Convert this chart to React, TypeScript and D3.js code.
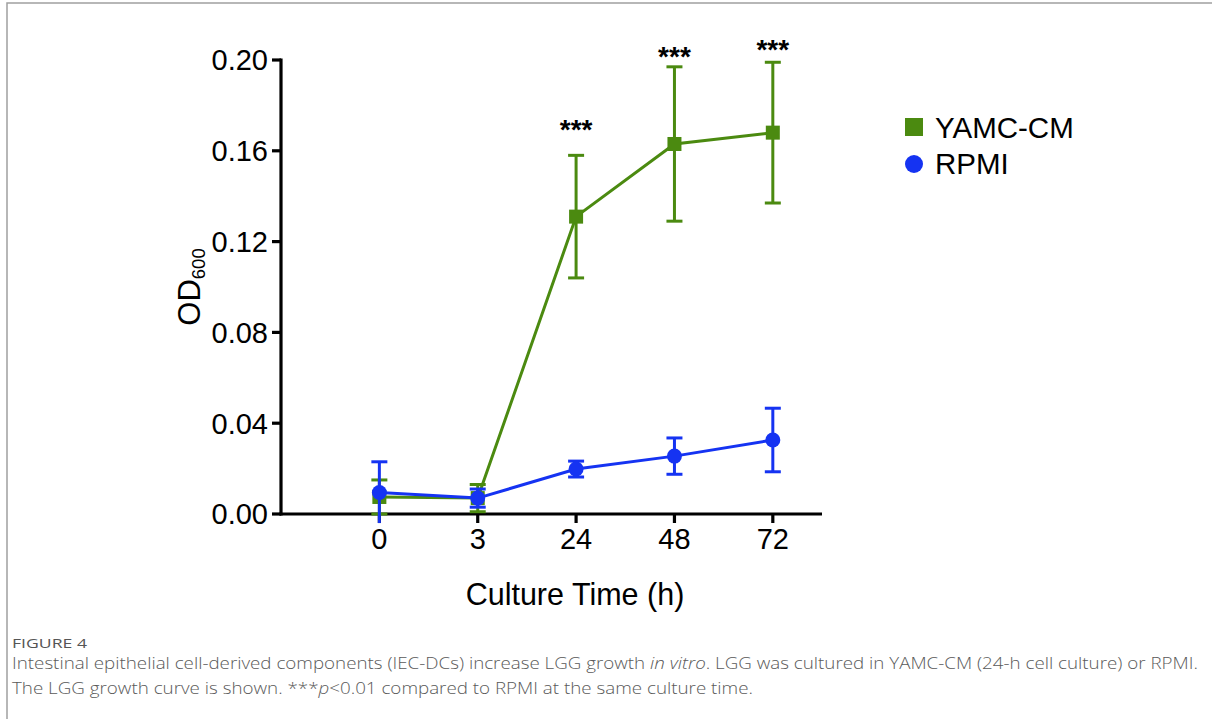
import * as d3 from 'd3';
import React from 'react';

const times = ['0', '3', '24', '48', '72'];
const yTicks = [0, 0.04, 0.08, 0.12, 0.16, 0.2];

const yamcMean = [0.0075, 0.007, 0.131, 0.163, 0.168];
const yamcErr = [0.0075, 0.006, 0.027, 0.034, 0.031];
const rpmiMean = [0.0095, 0.007, 0.0198, 0.0255, 0.0326];
const rpmiErr = [0.0135, 0.004, 0.0035, 0.008, 0.014];

// y level (data units) of the *** labels, null = no label
const starLevel = [null, null, 0.165, 0.1975, 0.2005];

const GREEN = '#4b8a10';
const BLUE = '#1533f2';
const FONT = '"Liberation Sans", Arial, Helvetica, sans-serif';
const CAPTION_FONT = '"Open Sans", sans-serif';

const App = () => {
    const x = d3.scaleLinear().domain([-1, 4.5]).range([281, 822]);
    const y = d3.scaleLinear().domain([0, 0.2]).range([514, 60]);

    const line = d3.line<number>()
        .x((d, i) => x(i))
        .y(d => y(d));

    const errorBars = (means: number[], errs: number[], color: string) => means.map((m, i) => {
        const cx = x(i);
        const top = y(m + errs[i]);
        const bot = y(Math.max(m - errs[i], -0.004));
        return (
            <g key={i} stroke={color} strokeWidth={3}>
                <line x1={cx} x2={cx} y1={top} y2={bot} />
                <line x1={cx - 8} x2={cx + 8} y1={top} y2={top} />
                {m - errs[i] > -0.004 && <line x1={cx - 8} x2={cx + 8} y1={bot} y2={bot} />}
            </g>
        );
    });

    return (
        <div style={{ position: 'fixed', left: 0, top: 0 }}>
            <svg width={1212} height={719} style={{ display: 'block', background: '#fff' }}>
                {/* frame */}
                <path d="M7,719 V3 H1212" fill="none" stroke="#a0a0a0" strokeWidth={1.5} />

                {/* y axis */}
                <line x1={281} x2={281} y1={y(0.2) - 1.5} y2={y(0) + 1.5} stroke="#000" strokeWidth={3.2} />
                {yTicks.map(t => (
                    <g key={t}>
                        <line x1={272} x2={281} y1={y(t)} y2={y(t)} stroke="#000" strokeWidth={3.2} />
                        <text x={268} y={y(t)} dy="0.36em" textAnchor="end" fontFamily={FONT} fontSize={29}>
                            {d3.format('.2f')(t)}
                        </text>
                    </g>
                ))}

                {/* x axis */}
                <line x1={279.5} x2={822} y1={y(0)} y2={y(0)} stroke="#000" strokeWidth={3.2} />
                {times.map((t, i) => (
                    <g key={t}>
                        <line x1={x(i)} x2={x(i)} y1={y(0)} y2={y(0) + 9} stroke="#000" strokeWidth={3.2} />
                        <text x={x(i)} y={549} textAnchor="middle" fontFamily={FONT} fontSize={29}>{t}</text>
                    </g>
                ))}

                <text x={575} y={605} textAnchor="middle" fontFamily={FONT} fontSize={30.5}>Culture Time (h)</text>
                <text transform="translate(200,287) rotate(-90)" textAnchor="middle" fontFamily={FONT} fontSize={31}>
                    OD<tspan fontSize={18.5} dy={5}>600</tspan>
                </text>

                {/* YAMC-CM */}
                {errorBars(yamcMean, yamcErr, GREEN)}
                <path d={line(yamcMean) || ''} fill="none" stroke={GREEN} strokeWidth={3} />
                {yamcMean.map((m, i) => (
                    <rect key={i} x={x(i) - 7} y={y(m) - 7} width={14} height={14} fill={GREEN} />
                ))}

                {/* RPMI */}
                {errorBars(rpmiMean, rpmiErr, BLUE)}
                <path d={line(rpmiMean) || ''} fill="none" stroke={BLUE} strokeWidth={3} />
                {rpmiMean.map((m, i) => (
                    <circle key={i} cx={x(i)} cy={y(m)} r={7.5} fill={BLUE} />
                ))}

                {/* significance */}
                {starLevel.map((s, i) => s === null ? null : (
                    <text key={i} x={x(i)} y={y(s)} textAnchor="middle" fontFamily={FONT} fontSize={28} fontWeight="bold">***</text>
                ))}

                {/* legend */}
                <rect x={905} y={118} width={18} height={18} fill={GREEN} />
                <text x={935} y={138} fontFamily={FONT} fontSize={29.5}>YAMC-CM</text>
                <circle cx={914} cy={164} r={9} fill={BLUE} />
                <text x={935} y={174} fontFamily={FONT} fontSize={29.5}>RPMI</text>

                {/* caption */}
                <text x={12} y={648} fontFamily={CAPTION_FONT} fontSize={12} fill="#555" textLength={75} lengthAdjust="spacingAndGlyphs">FIGURE 4</text>
                <text x={12} y={669} fontFamily={CAPTION_FONT} fontWeight={300} fontSize={16.5} fill="#5a5a5a" textLength={1186} lengthAdjust="spacingAndGlyphs">
                    Intestinal epithelial cell-derived components (IEC-DCs) increase LGG growth <tspan fontStyle="italic">in vitro</tspan>. LGG was cultured in YAMC-CM (24-h cell culture) or RPMI.
                </text>
                <text x={12} y={694} fontFamily={CAPTION_FONT} fontWeight={300} fontSize={16.5} fill="#5a5a5a" textLength={741} lengthAdjust="spacingAndGlyphs">
                    The LGG growth curve is shown. ***<tspan fontStyle="italic">p</tspan>&lt;0.01 compared to RPMI at the same culture time.
                </text>
            </svg>
        </div>
    );
};

export default App;
